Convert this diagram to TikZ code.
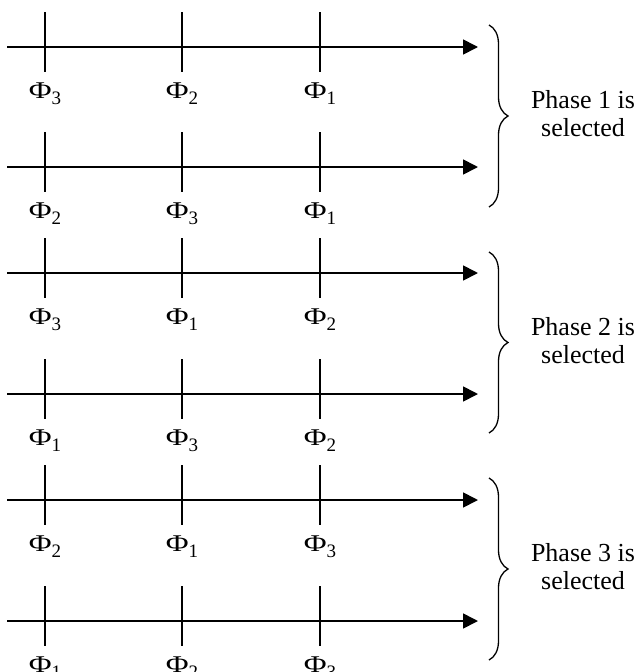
\documentclass[tikz,border=0pt]{standalone}
\usepackage{fontspec}
\setmainfont{Liberation Serif}
\usetikzlibrary{arrows.meta,decorations.pathreplacing}
\newcommand\phsub[1]{\raisebox{-0.28em}{\fontsize{19}{19}\selectfont #1}}
\newcommand\bigphi{\scalebox{1.3}[1]{Φ}}
\begin{document}
\begin{tikzpicture}[x=1pt,y=-1pt,line width=1.7pt,
  axis/.style={-{Triangle[length=15pt,width=15pt]}},
  ticksty/.style={line width=1.7pt},
  lab/.style={font=\fontsize{24}{24}\selectfont,inner sep=0pt,anchor=base},
  bracesty/.style={line width=1.3pt,decorate,decoration={brace,amplitude=19pt}},
  phtext/.style={font=\fontsize{26}{28}\selectfont,align=center,inner sep=0pt}]
\useasboundingbox (0,0) rectangle (643,672);
\foreach \y/\a/\b/\c [count=\i] in {47/3/2/1,167/2/3/1,273/3/1/2,394/1/3/2,500/2/1/3,621/1/2/3}{
  \coordinate (s\i) at (7,\y);
  \coordinate (e\i) at (478,\y);
  \draw[axis] (s\i) -- (e\i);
  \foreach \x/\p [count=\j] in {45/\a,182/\b,320/\c}{
    \coordinate (t\i\j) at (\x,\y-35);
    \coordinate (b\i\j) at (\x,\y+25);
    \draw[ticksty] (t\i\j) -- (b\i\j);
    \node[lab] (l\i\j) at (\x,\y+51) {\bigphi\phsub{\p}};
  }
}
\foreach \top/\bot/\k in {25/207/1,252/433/2,478/660/3}{
  \coordinate (bt\k) at (489,\top);
  \coordinate (bb\k) at (489,\bot);
  \draw[bracesty] (bt\k) -- (bb\k);
  \node[phtext] (p\k) at (583,{(\top+\bot)/2-2}) {Phase \k{} is\\selected};
}
\end{tikzpicture}
\end{document}
